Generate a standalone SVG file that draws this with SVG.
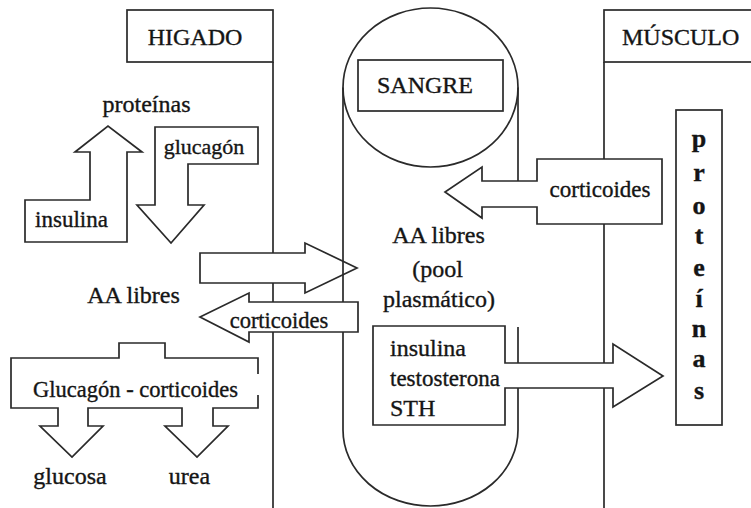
<svg xmlns="http://www.w3.org/2000/svg" width="751" height="508" viewBox="0 0 751 508">
<style>
.s{fill:#fff;stroke:#2a2a2a;stroke-width:1.7;stroke-linejoin:miter}
.l{fill:none;stroke:#2a2a2a;stroke-width:1.7}
text{font-family:"Liberation Serif","Times New Roman",serif;font-size:24px;fill:#151515;stroke:#151515;stroke-width:0.35}
.m{text-anchor:middle}
.c{font-weight:bold;font-size:26px;text-anchor:middle}
</style>
<rect width="751" height="508" fill="#fff"/>
<g id="higado">
<rect class="s" x="127" y="10" width="146" height="52"/>
<line class="l" x1="273" y1="62" x2="273" y2="508"/>
<text class="m" x="195" y="45">HIGADO</text>
</g>
<g id="musculo">
<rect class="s" x="604" y="10" width="160" height="52"/>
<line class="l" x1="604" y1="62" x2="604" y2="508"/>
<text x="622" y="45">MÚSCULO</text>
</g>
<g id="connectors">
<polygon id="arrow-aa-sangre" class="s" points="200,253 305,253 305,243 357,268 305,293 305,283 200,283"/>
</g>
<g id="sangre">
<ellipse class="l" cx="430.5" cy="87.5" rx="87.5" ry="79.5"/>
<path class="l" d="M343,87.5 V430 A87.5,76 0 0 0 518,430 V327"/>
<line class="l" x1="518" y1="87.5" x2="518" y2="207"/>
<rect class="s" x="358" y="60" width="145" height="51"/>
<text class="m" x="425" y="93">SANGRE</text>
<text class="m" x="438.5" y="243">AA libres</text>
<text class="m" x="437.5" y="277">(pool</text>
<text class="m" x="439" y="307">plasmático)</text>
</g>
<g id="corticoides-higado">
<polygon class="s" points="358,302 358,332 249,332 249,342 200,317 249,293 249,302"/>
<text class="m" x="279" y="328" style="font-size:22.5px">corticoides</text>
</g>
<g id="corticoides-musculo">
<polygon class="s" points="537,159 662,159 662,224 537,224 537,207 482,207 482,218 445,192 482,167 482,181 537,181"/>
<text class="m" x="600" y="197" style="font-size:23px">corticoides</text>
</g>
<g id="hormonas-anabolicas">
<polygon class="s" points="373,326 505,326 505,363 613,363 613,344 663,376 613,407 613,388 505,388 505,425 373,425"/>
<text x="390" y="356">insulina</text>
<text x="390" y="386" style="font-size:23px">testosterona</text>
<text x="390" y="416">STH</text>
</g>
<g id="insulina-higado">
<polygon class="s" points="25,200 90,200 90,152 75,152 108,126 142,152 127,152 127,242 25,242"/>
<text class="m" x="71.5" y="227" style="font-size:23px">insulina</text>
</g>
<g id="glucagon-higado">
<polygon class="s" points="155,127 258,127 258,164 188,164 188,205 204,205 171,243 137,205 155,205"/>
<text class="m" x="204" y="154" style="font-size:22px">glucagón</text>
</g>
<g id="proteinas-higado">
<text class="m" x="146.5" y="112">proteínas</text>
</g>
<g id="aa-higado">
<text class="m" x="133.5" y="303">AA libres</text>
</g>
<g id="glucagon-corticoides">
<path class="s" d="M258,395 V408 H213 V426 H228 L197,457 L165,426 H182 V408 H88 V426 H103 L72,457 L40,426 H58 V408 H11 V358 H119 V343 H165 V358 H258 V374"/>
<text class="m" x="135.5" y="397" style="font-size:22.5px">Glucagón - corticoides</text>
<text class="m" x="70" y="484">glucosa</text>
<text class="m" x="189.5" y="484">urea</text>
</g>
<g id="proteinas-musculo">
<rect class="s" x="676" y="110" width="46" height="315"/>
<text class="c" x="699" y="147">p</text>
<text class="c" x="699" y="181">r</text>
<text class="c" x="699" y="214">o</text>
<text class="c" x="699" y="244">t</text>
<text class="c" x="699" y="276">e</text>
<text class="c" x="699" y="307">í</text>
<text class="c" x="699" y="337">n</text>
<text class="c" x="699" y="367">a</text>
<text class="c" x="699" y="399">s</text>
</g>
</svg>
